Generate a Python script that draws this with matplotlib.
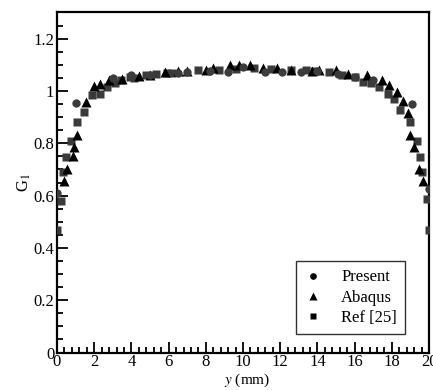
import matplotlib
matplotlib.use("Agg")
import matplotlib.pyplot as plt
from matplotlib.ticker import MultipleLocator, FormatStrFormatter

plt.rcParams['font.family'] = ['Liberation Serif', 'DejaVu Serif']
plt.rcParams['mathtext.fontset'] = 'stix'

# Present (circles)
present_x = [0.0, 1.0, 3.0, 4.0, 5.0, 6.5, 7.0, 8.2, 9.2, 10.0, 11.2, 12.1,
             13.1, 14.0, 15.1, 16.0, 17.0, 19.1, 20.0]
present_y = [0.61, 0.953, 1.048, 1.06, 1.062, 1.068, 1.072, 1.078, 1.072, 1.09,
             1.073, 1.073, 1.073, 1.075, 1.063, 1.055, 1.04, 0.95, 0.625]

# Abaqus (triangles)
abaqus_x = [0.38, 0.55, 0.86, 0.92, 1.1, 1.55, 2.0, 2.3, 2.8, 3.5, 4.4, 5.0,
            5.8, 6.5, 7.0, 8.0, 8.4, 9.3, 9.8, 10.35, 11.07, 11.8, 12.6, 13.7,
            14.1, 15.0, 15.65, 16.64, 17.45, 17.86, 18.25, 18.6, 18.88, 19.0,
            19.19, 19.48, 19.66]
abaqus_y = [0.656, 0.70, 0.75, 0.786, 0.83, 0.956, 1.02, 1.027, 1.04, 1.045,
            1.057, 1.062, 1.073, 1.075, 1.075, 1.08, 1.086, 1.098, 1.098, 1.098,
            1.086, 1.086, 1.082, 1.078, 1.08, 1.08, 1.064, 1.06, 1.04, 1.023,
            0.997, 0.96, 0.915, 0.83, 0.786, 0.703, 0.656]

# Ref [25] (squares)
ref_x = [0.0, 0.2, 0.3, 0.5, 0.75, 1.1, 1.45, 1.9, 2.3, 2.7, 3.1, 3.45, 3.9,
         4.15, 4.8, 5.3, 5.9, 6.2, 7.6, 8.7, 9.6, 10.6, 11.5, 12.6, 13.4, 13.8,
         14.6, 15.3, 16.0, 16.45, 16.9, 17.3, 17.8, 18.1, 18.45, 18.95, 19.35,
         19.5, 19.6, 19.9, 20.0]
ref_y = [0.467, 0.58, 0.69, 0.747, 0.81, 0.88, 0.92, 0.985, 0.99, 1.016, 1.03,
         1.04, 1.054, 1.048, 1.06, 1.065, 1.07, 1.07, 1.08, 1.08, 1.085, 1.086,
         1.085, 1.08, 1.08, 1.078, 1.072, 1.06, 1.054, 1.035, 1.03, 1.016,
         0.99, 0.968, 0.928, 0.88, 0.808, 0.748, 0.69, 0.587, 0.467]

fig = plt.figure(figsize=(4.33, 3.90), dpi=100)
ax = fig.add_axes([0.1316, 0.096, 0.8594, 0.872])

ax.plot(ref_x, ref_y, 's', color='#3a3a3a', ms=6, mec='none', label='Ref [25]', zorder=3)
ax.plot(abaqus_x, abaqus_y, '^', color='black', ms=6.5, mec='none', label='Abaqus', zorder=4)
ax.plot(present_x, present_y, 'o', color='#3c3c3c', ms=6, mec='none', label='Present', zorder=5)

ax.set_xlim(0, 20)
ax.set_ylim(0, 1.3)
ax.xaxis.set_major_locator(MultipleLocator(2))
ax.xaxis.set_minor_locator(MultipleLocator(0.4))
ax.yaxis.set_major_locator(MultipleLocator(0.2))
ax.yaxis.set_minor_locator(MultipleLocator(0.05))
ax.yaxis.set_major_formatter(FormatStrFormatter('%g'))
ax.tick_params(which='both', direction='in', top=False, right=False,
               labelsize=12, width=1.3)
ax.tick_params(axis='x', which='major', length=8, pad=1)
ax.tick_params(axis='y', which='major', length=8, pad=2)
ax.tick_params(which='minor', length=4)
for sp in ax.spines.values():
    sp.set_linewidth(1.6)

ax.set_xlabel(r'$y$ (mm)', fontsize=11)
ax.xaxis.set_label_coords(0.51, -0.057)
ax.set_ylabel(r'G$_1$', fontsize=12, labelpad=0)

h, l = ax.get_legend_handles_labels()
order = [2, 1, 0]
leg = ax.legend([h[i] for i in order], [l[i] for i in order], loc='lower right',
                bbox_to_anchor=(0.958, 0.03), fontsize=12, frameon=True,
                fancybox=False, edgecolor='black', handlelength=1.0,
                handletextpad=1.2, borderpad=0.5, labelspacing=0.25,
                markerscale=0.8)
leg.get_frame().set_linewidth(1.0)
for lh in leg.legend_handles:
    lh.set_color('black')

fig.savefig('out.png', dpi=100)
